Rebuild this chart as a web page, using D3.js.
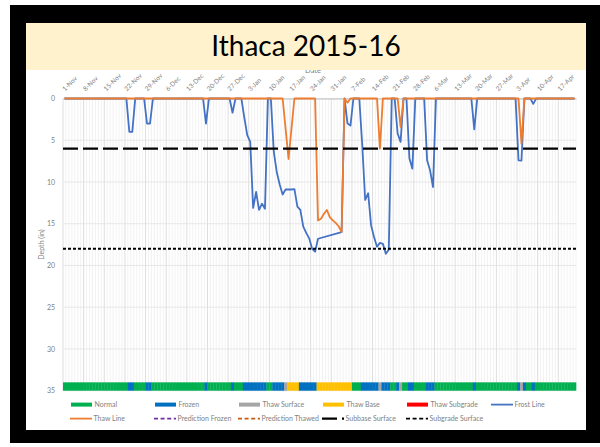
<!DOCTYPE html>
<html>
<head>
<meta charset="utf-8">
<script src="https://cdn.jsdelivr.net/npm/d3@7"></script>
<style>
  body { margin: 0; background: #fff; }
  text { font-family: Lato, "Open Sans", sans-serif; }
</style>
</head>
<body>
<div id="chart"></div>
<script>
// tick labels, one every 7 days starting 1-Nov-2015
var weekLabels = ["1-Nov", "8-Nov", "15-Nov", "22-Nov", "29-Nov", "6-Dec", "13-Dec", "20-Dec",
    "27-Dec", "3-Jan", "10-Jan", "17-Jan", "24-Jan", "31-Jan", "7-Feb", "14-Feb", "21-Feb",
    "28-Feb", "6-Mar", "13-Mar", "20-Mar", "27-Mar", "3-Apr", "10-Apr", "17-Apr"];

var depthTicks = [0, 5, 10, 15, 20, 25, 30, 35];

// daily frost line depth (in), 1-Nov .. 22-Apr, null = no reading (line joins across)
var frostLine = [
    0, 0, 0, 0, 0, 0, 0, 0, 0, 0, 0, 0, 0, 0,
    0, 0, 0, 0, 0, 0, 0, 0, 4, 4, 0, 0, 0, 0,
    3, 3, 0, 0, 0, 0, 0, 0, 0, 0, 0, 0, 0, 0,
    0, 0, 0, 0, 0, 0, 3, 0, 0, 0, 0, 0, 0, 0,
    0, 1.7, 0, 0, 0, 2.3, 4.4, 5.2, 13.1, 11.2, 13.35, 12.6, 13.2, 0,
    0, 6.4, 8.8, 10.3, 11.5, 10.9, 10.9, 10.9, 10.85, 12.95, 13.35, 15.35, 16.1, 16.75,
    18, 18.35, 16.8, null, null, null, null, null, null, null, 16, 0, 3, 3.25,
    0, 0, 0, 5.6, 12.15, 11.35, 15.2, 16.6, 17.75, 17.3, 17.4, 18.6, 18.1, 0,
    0, 4.2, 5.2, 0, 0, 7.2, 8.4, 0, 0, 0, 0, 7.4, 8.6, 10.6,
    0, 0, 0, 0, 0, 0, 0, 0, 0, 0, 0, 0, 0, 3.7,
    0, 0, 0, 0, 0, 0, 0, 0, 0, 0, 0, 0, 0, 0,
    7.4, 7.45, 0, 0, 0, 0.65, 0, 0, 0, 0, 0, 0, 0, 0,
    0, 0, 0, 0, 0, 0
];

// daily thaw line depth (in)
var thawLine = [
    0, 0, 0, 0, 0, 0, 0, 0, 0, 0, 0, 0, 0, 0,
    0, 0, 0, 0, 0, 0, 0, 0, 0, 0, 0, 0, 0, 0,
    0, 0, 0, 0, 0, 0, 0, 0, 0, 0, 0, 0, 0, 0,
    0, 0, 0, 0, 0, 0, 0, 0, 0, 0, 0, 0, 0, 0,
    0, 0, 0, 0, 0, 0, 0, 0, 0, 0, 0, 0, 0, 0,
    0, 0, 0, 0, 0, 3.6, 7.25, 3.6, 0, 0, 0, 0, 0, 0,
    0, 0, 14.6, 14.4, 13.8, 13.35, 14.2, 14.6, 14.9, 15.3, 16, 0, 0.5, 0,
    0, 0, 0, 0, 0, 0, 0, 0, 0, 6, 0, 0, 0, 0,
    0, 0, 3.4, 0, 0, 0, 0, 0, 0, 0, 0, 0, 0, 0,
    0, 0, 0, 0, 0, 0, 0, 0, 0, 0, 0, 0, 0, 0,
    0, 0, 0, 0, 0, 0, 0, 0, 0, 0, 0, 0, 0, 0,
    0, 5.4, 0, 0, 0, 0, 0, 0, 0, 0, 0, 0, 0, 0,
    0, 0, 0, 0, 0, 0
];

// pavement condition band, run by run: N normal, F frozen, S thaw surface, B thaw base
var statusRuns = ["N", "F", "N", "F", "N", "F", "N", "F", "N", "F", "N", "F", "S", "B", "F", "B",
    "N", "F", "S", "F", "N", "F", "S", "N", "F", "N", "F", "N", "F", "N", "F", "S", "F", "N", "F", "N"];
var statusDays = [22, 2, 4, 2, 18, 1, 8, 1, 3, 8, 2, 4, 1, 4, 6, 12,
    3, 6, 1, 3, 2, 1, 1, 2, 2, 4, 3, 13, 1, 14, 1, 1, 1, 2, 1, 14];

var subbaseDepth = 6;
var subgradeDepth = 18;

var width = 600;
var height = 447;

var plot = { left: 63, right: 576, top: 98.5, bottom: 390.7 };

var colors = {
    N: "#00B050", F: "#0070C0", S: "#A5A5A5", B: "#FFC000", G: "#FF0000",
    frost: "#4472C4", thaw: "#ED7D31"
};

var svg = d3.select("#chart")
    .append("svg")
    .attr("width", width)
    .attr("height", height);

// frame
svg.append("rect").attr("x", 10).attr("y", 5).attr("width", 590).attr("height", 438).attr("fill", "#000");
svg.append("rect").attr("x", 26).attr("y", 23).attr("width", 560).attr("height", 407).attr("fill", "#fff");

var nDays = frostLine.length;

var x = d3.scaleLinear().domain([0, nDays]).range([plot.left, plot.right]);
var y = d3.scaleLinear().domain([0, 35]).range([plot.top, plot.bottom]);

// daily (minor) and weekly (major) vertical gridlines
var g = svg.append("g");
g.selectAll(".minor")
    .data(d3.range(0, nDays + 1))
    .enter()
    .append("line")
    .attr("x1", function(d) { return x(d); })
    .attr("x2", function(d) { return x(d); })
    .attr("y1", y(0))
    .attr("y2", y(35))
    .attr("stroke", function(d) { return d % 7 === 0 ? "#d4d4d4" : "#efefef"; })
    .attr("stroke-width", 0.8);

g.selectAll(".hgrid")
    .data(depthTicks)
    .enter()
    .append("line")
    .attr("x1", plot.left)
    .attr("x2", plot.right)
    .attr("y1", function(d) { return y(d); })
    .attr("y2", function(d) { return y(d); })
    .attr("stroke", "#e2e2e2")
    .attr("stroke-width", 0.8);

// y axis
var yAxis = d3.axisLeft(y).tickValues(depthTicks).tickSize(0).tickPadding(8);
svg.append("g")
    .attr("transform", "translate(" + plot.left + ",0)")
    .call(yAxis)
    .call(function(s) { s.select(".domain").remove(); })
    .selectAll("text")
    .attr("fill", "#7f7f7f")
    .style("font-size", "7px")
    .style("font-family", "Lato, sans-serif");

svg.append("text")
    .attr("transform", "translate(44," + ((plot.top + plot.bottom) / 2) + ") rotate(-90)")
    .attr("text-anchor", "middle")
    .attr("fill", "#7f7f7f")
    .style("font-size", "7px")
    .text("Depth (in)");

// x axis on top with rotated date labels
var xAxis = d3.axisTop(x)
    .tickValues(d3.range(0, weekLabels.length).map(function(i) { return i * 7; }))
    .tickSize(0)
    .tickFormat(function(d) { return weekLabels[d / 7]; });
var xg = svg.append("g")
    .attr("transform", "translate(0," + plot.top + ")")
    .call(xAxis);
xg.select(".domain").attr("stroke", "#bfbfbf");
xg.selectAll("text")
    .attr("x", 0)
    .attr("y", 0)
    .attr("dy", 0)
    .attr("text-anchor", "start")
    .attr("fill", "#7f7f7f")
    .attr("transform", "translate(1.5,-7) rotate(-45)")
    .style("font-size", "6.5px")
    .style("font-family", "Lato, sans-serif");

// "Date" axis title, mostly tucked under the title band
svg.append("text")
    .attr("x", 313)
    .attr("y", 73)
    .attr("text-anchor", "middle")
    .attr("fill", "#7f7f7f")
    .style("font-size", "7.5px")
    .text("Date");

// title band
svg.append("rect").attr("x", 26).attr("y", 23).attr("width", 560).attr("height", 47).attr("fill", "#FFF2CC");
svg.append("text")
    .attr("x", 306)
    .attr("y", 56)
    .attr("text-anchor", "middle")
    .attr("fill", "#000")
    .style("font-size", "28px")
    .text("Ithaca 2015-16");

// condition band along the bottom
var dailyStatus = [];
statusRuns.forEach(function(s, i) {
    for (var k = 0; k < statusDays[i]; k++) dailyStatus.push(s);
});
svg.append("g")
    .selectAll("rect")
    .data(dailyStatus)
    .enter()
    .append("rect")
    .attr("x", function(d, i) { return x(i); })
    .attr("width", function(d, i) { return x(i + 1) - x(i) + 0.3; })
    .attr("y", y(34))
    .attr("height", y(35) - y(34))
    .attr("fill", function(d) { return colors[d]; });

// frost and thaw lines, points at the middle of each day
function dayLine(values) {
    var pts = values.map(function(v, i) { return [i, v]; })
        .filter(function(p) { return p[1] !== null; });
    return d3.line()
        .x(function(p) { return x(p[0] + 0.5); })
        .y(function(p) { return y(p[1]); })(pts);
}

svg.append("path")
    .attr("d", dayLine(frostLine))
    .attr("fill", "none")
    .attr("stroke", colors.frost)
    .attr("stroke-width", 1.8)
    .attr("stroke-linejoin", "round");

svg.append("path")
    .attr("d", dayLine(thawLine))
    .attr("fill", "none")
    .attr("stroke", colors.thaw)
    .attr("stroke-width", 1.8)
    .attr("stroke-linejoin", "round");

// subbase and subgrade surfaces
svg.append("line")
    .attr("x1", plot.left).attr("x2", plot.right)
    .attr("y1", y(subbaseDepth)).attr("y2", y(subbaseDepth))
    .attr("stroke", "#000")
    .attr("stroke-width", 2.2)
    .attr("stroke-dasharray", "15,5");

svg.append("line")
    .attr("x1", plot.left).attr("x2", plot.right)
    .attr("y1", y(subgradeDepth)).attr("y2", y(subgradeDepth))
    .attr("stroke", "#000")
    .attr("stroke-width", 1.8)
    .attr("stroke-dasharray", "3,2");

// legend
var legendItems = [
    { name: "Normal", type: "rect", color: colors.N },
    { name: "Frozen", type: "rect", color: colors.F },
    { name: "Thaw Surface", type: "rect", color: colors.S },
    { name: "Thaw Base", type: "rect", color: colors.B },
    { name: "Thaw Subgrade", type: "rect", color: colors.G },
    { name: "Frost Line", type: "line", color: colors.frost },
    { name: "Thaw Line", type: "line", color: colors.thaw },
    { name: "Prediction Frozen", type: "line", color: "#7030A0", dash: "4,2.6", width: 1.6 },
    { name: "Prediction Thawed", type: "line", color: "#C55A11", dash: "4,2.6", width: 1.6 },
    { name: "Subbase Surface", type: "line", color: "#000", dash: "15,5", width: 2.2 },
    { name: "Subgrade Surface", type: "line", color: "#000", dash: "4,2.6", width: 1.8 }
];

var legend = svg.append("g");
legendItems.forEach(function(item, i) {
    var col = i % 6;
    var row = Math.floor(i / 6);
    var lx = 71 + col * 84 - (row === 1 ? 1 : 0);
    var ly = 404.6 + row * 14;
    if (item.type === "rect") {
        legend.append("rect")
            .attr("x", lx).attr("y", ly - 2)
            .attr("width", 21).attr("height", 4)
            .attr("fill", item.color);
    } else {
        legend.append("line")
            .attr("x1", lx).attr("x2", lx + 22)
            .attr("y1", ly).attr("y2", ly)
            .attr("stroke", item.color)
            .attr("stroke-width", item.width || 1.8)
            .attr("stroke-dasharray", item.dash || null);
    }
    legend.append("text")
        .attr("x", lx + 23.5)
        .attr("y", ly + 2.5)
        .attr("fill", "#7f7f7f")
        .style("font-size", "7px")
        .text(item.name);
});
</script>
</body>
</html>
